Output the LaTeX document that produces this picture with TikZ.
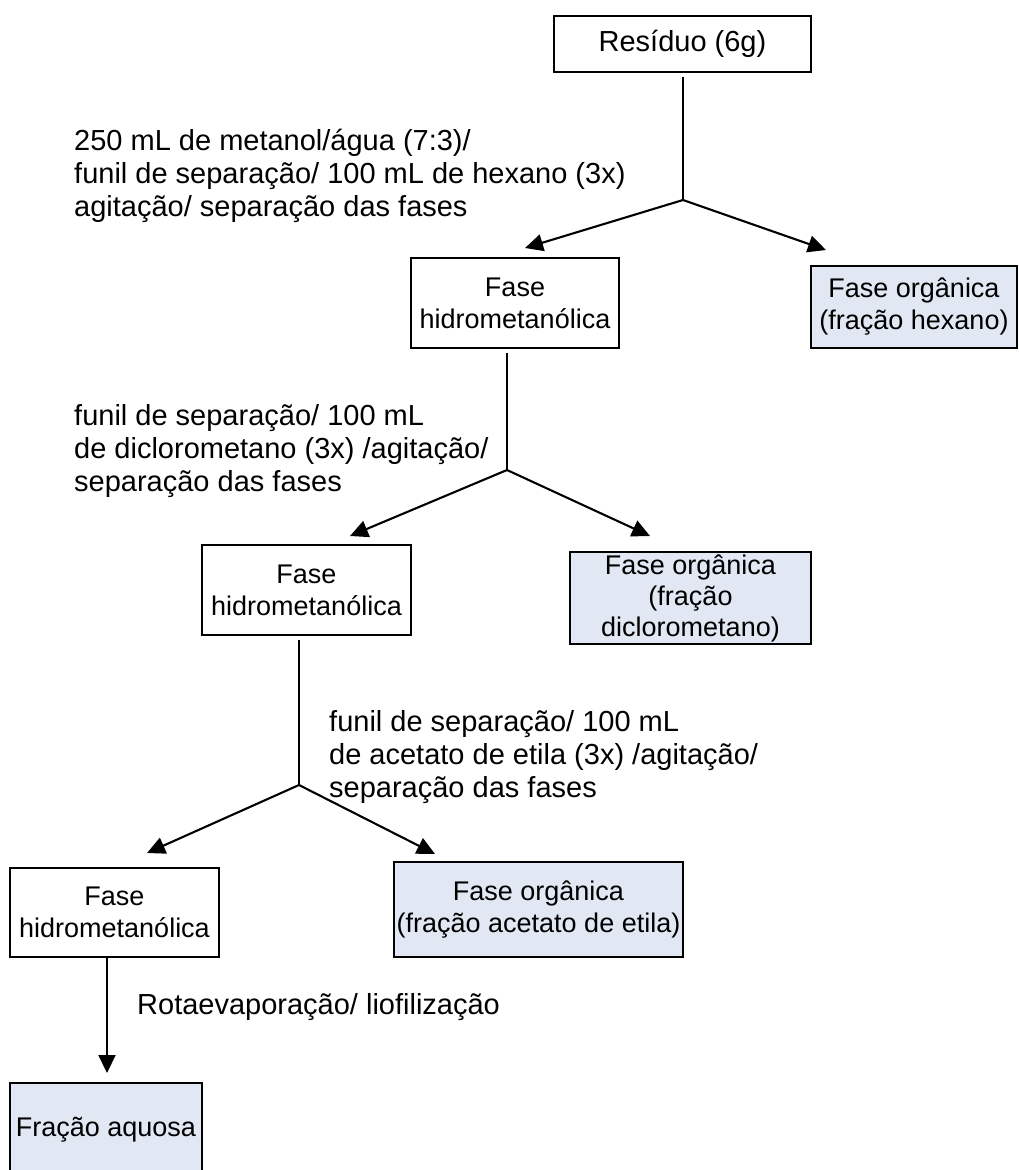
\documentclass[tikz,border=0pt]{standalone}
\usepackage{fontspec}
\setmainfont{Liberation Sans}
\usetikzlibrary{arrows.meta}
\definecolor{fracfill}{RGB}{225,232,243}
\begin{document}
\begin{tikzpicture}[x=1pt,y=-1pt,
  box/.style={draw, line width=1.6pt, inner sep=0pt, align=center,
    font=\fontsize{27}{32}\selectfont},
  frac/.style={box, fill=fracfill},
  note/.style={anchor=west, inner sep=0pt, align=left,
    font=\fontsize{29}{33}\selectfont},
  conn/.style={line width=2.1pt},
  arr/.style={conn, -{Triangle[length=18pt,width=17pt]}}]
\useasboundingbox (0,0) rectangle (1019,1170);

% boxes
\node[box, minimum width=257pt, minimum height=56pt,
  font=\fontsize{29}{33}\selectfont] (b0) at (682.5,44) {Resíduo (6g)};
\node[box, minimum width=208pt, minimum height=90pt] (b1) at (515,303) {Fase\\hidrometanólica};
\node[frac, minimum width=206pt, minimum height=82pt] (hex) at (914,307) {Fase orgânica\\(fração hexano)};
\node[box, minimum width=209pt, minimum height=90pt] (b2) at (306.5,590) {Fase\\hidrometanólica};
\node[frac, minimum width=241pt, minimum height=92pt, font=\fontsize{27}{31}\selectfont] (dcm) at (690.5,598) {Fase orgânica\\(fração\\diclorometano)};
\node[box, minimum width=209pt, minimum height=89pt] (b3) at (114.5,912.5) {Fase\\hidrometanólica};
\node[frac, minimum width=289pt, minimum height=95pt] (ace) at (538.5,909.5) {Fase orgânica\\(fração acetato de etila)};
\node[frac, minimum width=192pt, minimum height=94pt] (aq) at (106,1130) {Fração aquosa};

% step descriptions
\node[note] (n1) at (74,176) {250 mL de metanol/água (7:3)/\\funil de separação/ 100 mL de hexano (3x)\\agitação/ separação das fases};
\node[note] (n2) at (74,451) {funil de separação/ 100 mL\\de diclorometano (3x) /agitação/\\separação das fases};
\node[note] (n3) at (329,757) {funil de separação/ 100 mL\\de acetato de etila (3x) /agitação/\\separação das fases};
\node[note] (n4) at (137,1007) {Rotaevaporação/ liofilização};

% branch points and arrow ends
\coordinate (j1) at (683,200);
\coordinate (j2) at (507,470);
\coordinate (j3) at (299,785);
\coordinate (t1l) at (525,248);
\coordinate (t1r) at (826,250);
\coordinate (t2l) at (350,536);
\coordinate (t2r) at (650,536);
\coordinate (t3l) at (147,853);
\coordinate (t3r) at (435,854);
\coordinate (t4) at (107,1073);

% connectors
\draw[conn] ([yshift=-4pt]b0.south -| j1) -- (j1);
\draw[arr] (j1) -- (t1l);
\draw[arr] (j1) -- (t1r);
\draw[conn] ([yshift=-4pt]b1.south -| j2) -- (j2);
\draw[arr] (j2) -- (t2l);
\draw[arr] (j2) -- (t2r);
\draw[conn] ([yshift=-4pt]b2.south -| j3) -- (j3);
\draw[arr] (j3) -- (t3l);
\draw[arr] (j3) -- (t3r);
\draw[arr] (b3.south -| t4) -- (t4);
\end{tikzpicture}
\end{document}
